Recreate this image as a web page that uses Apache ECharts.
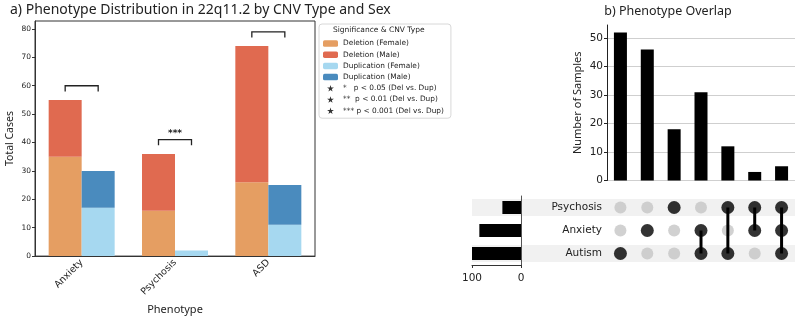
<!DOCTYPE html>
<html>
<head>
<meta charset="utf-8">
<script src="https://cdn.jsdelivr.net/npm/echarts@6/dist/echarts.min.js"></script>
<style>
  html, body { margin: 0; padding: 0; background: #fff; }
  #chart { width: 800px; height: 320px; }
</style>
</head>
<body>
<div id="chart"></div>
<script>
// a) phenotype counts by CNV type and sex
var phenotypes = ['Anxiety', 'Psychosis', 'ASD'];
var delFemale = [35, 16, 26];
var delMale = [20, 20, 48];
var dupFemale = [17, 2, 11];
var dupMale = [13, 0, 14];
// significance brackets: [phenotype index, height, stars]
var brackets = [[0, 60, ''], [1, 41, '***'], [2, 79, '']];
var leftTicks = [0, 10, 20, 30, 40, 50, 60, 70, 80];
var sigLabels = ['*   p < 0.05 (Del vs. Dup)', '**  p < 0.01 (Del vs. Dup)', '*** p < 0.001 (Del vs. Dup)'];

// b) upset plot
var intersections = ['c1', 'c2', 'c3', 'c4', 'c5', 'c6', 'c7'];
var intersectionCounts = [52, 46, 18, 31, 12, 3, 5];
var countTicks = [0, 10, 20, 30, 40, 50];
var setRows = ['Autism', 'Anxiety', 'Psychosis']; // bottom -> top
var setSizes = [100, 85, 38];
var memberAutism = [1, 0, 0, 1, 1, 0, 1];
var memberAnxiety = [0, 1, 0, 1, 0, 1, 1];
var memberPsychosis = [0, 0, 1, 0, 1, 1, 1];
var shadedRows = [0, 2];

var colors = {
    delF: '#E59E62',
    delM: '#E06A50',
    dupF: '#A6D8F0',
    dupM: '#4A8BBE'
};
var starPath = 'path://M50,0 L61,35 L98,35 L68,57 L79,91 L50,70 L21,91 L32,57 L2,35 L39,35 Z';

var members = [memberAutism, memberAnxiety, memberPsychosis];
var activeDots = [], inactiveDots = [], links = [];
intersections.forEach(function (c, i) {
    var rows = [];
    members.forEach(function (m, r) {
        if (m[i]) { activeDots.push([i, r]); rows.push(r); }
        else inactiveDots.push([i, r]);
    });
    if (rows.length > 1) links.push([i, Math.min.apply(null, rows), Math.max.apply(null, rows)]);
});

var chart = echarts.init(document.getElementById('chart'), null, { renderer: 'canvas' });
var tickFont = 'DejaVu Sans';
var uiFont = 'Noto Sans';

var option = {
    animation: false,
    backgroundColor: '#fff',
    title: [{
        text: 'a) Phenotype Distribution in 22q11.2 by CNV Type and Sex',
        left: 5, top: -2,
        textStyle: { fontFamily: uiFont, fontSize: 14, fontWeight: 'normal', color: '#222' }
    }, {
        text: 'b) Phenotype Overlap',
        left: 663, top: 0, textAlign: 'center',
        textStyle: { fontFamily: uiFont, fontSize: 12.5, fontWeight: 'normal', color: '#222' }
    }],
    legend: {
        orient: 'vertical',
        left: 319, top: 24,
        width: 129,
        padding: [16, 7, 4, 4],
        borderColor: '#d8d8d8', borderWidth: 1, borderRadius: 3,
        itemWidth: 15, itemHeight: 6.5, itemGap: 4.2,
        textStyle: { fontFamily: tickFont, fontSize: 7.4, color: '#222' },
        data: ['Deletion (Female)', 'Deletion (Male)', 'Duplication (Female)', 'Duplication (Male)']
            .concat(sigLabels.map(function (s) { return { name: s, icon: starPath }; }))
    },
    graphic: [{
        type: 'text', left: 333, top: 26,
        style: { text: 'Significance & CNV Type', font: '7.5px "DejaVu Sans"', fill: '#222' }
    }],
    grid: [
        { left: 35, top: 21, width: 280, height: 238, show: true, borderColor: '#333', borderWidth: 1, backgroundColor: 'transparent' },
        { left: 607, top: 25, width: 188, height: 155.5 },
        { left: 607, top: 196, width: 188, height: 69 },
        { left: 472, top: 196, width: 49, height: 69 }
    ],
    xAxis: [{
        gridIndex: 0, type: 'category', data: phenotypes,
        name: 'Phenotype', nameLocation: 'middle', nameGap: 40,
        nameTextStyle: { fontFamily: uiFont, fontSize: 11, color: '#222' },
        axisLine: { lineStyle: { color: '#333' } },
        axisTick: { alignWithLabel: true, length: 3, lineStyle: { color: '#333' } },
        axisLabel: { rotate: 45, fontFamily: tickFont, fontSize: 9.5, color: '#222', margin: 5 }
    }, {
        gridIndex: 1, type: 'category', data: intersections, show: false
    }, {
        gridIndex: 2, type: 'category', data: intersections, show: false
    }, {
        gridIndex: 3, type: 'value', inverse: true, min: 0, max: 100, interval: 100,
        axisLine: { show: true, lineStyle: { color: '#333' } },
        axisTick: { show: true, length: 3, lineStyle: { color: '#333' } },
        axisLabel: { fontFamily: tickFont, fontSize: 10.5, color: '#222', margin: 8 },
        splitLine: { show: false }
    }],
    yAxis: [{
        gridIndex: 0, type: 'value', min: 0, max: 82.8, interval: 10,
        name: 'Total Cases', nameLocation: 'middle', nameGap: 19,
        nameTextStyle: { fontFamily: uiFont, fontSize: 10.5, color: '#222' },
        axisLine: { show: true, lineStyle: { color: '#333' } },
        axisTick: { show: true, length: 3, lineStyle: { color: '#333' }, customValues: leftTicks },
        axisLabel: {
            fontFamily: tickFont, fontSize: 7.5, color: '#222', margin: 4,
            customValues: leftTicks
        },
        splitLine: { show: false }
    }, {
        gridIndex: 1, type: 'value', min: 0, max: 54.6, interval: 10,
        name: 'Number of Samples', nameLocation: 'middle', nameGap: 24,
        nameTextStyle: { fontFamily: uiFont, fontSize: 11, color: '#222' },
        axisLine: { show: true, lineStyle: { color: '#222' } },
        axisTick: { show: true, length: 3, lineStyle: { color: '#222' }, customValues: countTicks },
        axisLabel: { fontFamily: tickFont, fontSize: 10.5, color: '#222', margin: 4, customValues: countTicks },
        splitLine: { lineStyle: { color: '#cfcfcf', width: 1 } }
    }, {
        gridIndex: 2, type: 'category', data: setRows,
        axisLine: { show: false }, axisTick: { show: false },
        axisLabel: { fontFamily: tickFont, fontSize: 10.5, color: '#222', margin: 5 }
    }, {
        gridIndex: 3, type: 'category', data: setRows,
        axisLine: { show: true, lineStyle: { color: '#555' } },
        axisTick: { show: false }, axisLabel: { show: false }
    }],
    series: [
        {
            name: 'Deletion (Female)', type: 'bar', stack: 'del', xAxisIndex: 0, yAxisIndex: 0,
            barWidth: 33, barGap: '0%', data: delFemale, itemStyle: { color: colors.delF }
        },
        {
            name: 'Deletion (Male)', type: 'bar', stack: 'del', xAxisIndex: 0, yAxisIndex: 0,
            barWidth: 33, barGap: '0%', data: delMale, itemStyle: { color: colors.delM }
        },
        {
            name: 'Duplication (Female)', type: 'bar', stack: 'dup', xAxisIndex: 0, yAxisIndex: 0,
            barWidth: 33, barGap: '0%', data: dupFemale, itemStyle: { color: colors.dupF }
        },
        {
            name: 'Duplication (Male)', type: 'bar', stack: 'dup', xAxisIndex: 0, yAxisIndex: 0,
            barWidth: 33, barGap: '0%', data: dupMale, itemStyle: { color: colors.dupM }
        },
        {
            // significance brackets over each phenotype pair
            type: 'custom', xAxisIndex: 0, yAxisIndex: 0, z: 5,
            data: brackets,
            renderItem: function (params, api) {
                var top = api.coord([api.value(0), api.value(1)]);
                var leg = api.coord([api.value(0), api.value(1) - 2]);
                var half = 16.5;
                var children = [{
                    type: 'polyline',
                    shape: { points: [[top[0] - half, leg[1]], [top[0] - half, top[1]], [top[0] + half, top[1]], [top[0] + half, leg[1]]] },
                    style: { stroke: '#222', lineWidth: 1.3, fill: null }
                }];
                var stars = brackets[params.dataIndex][2];
                if (stars) {
                    children.push({
                        type: 'text',
                        style: { text: stars, x: top[0], y: top[1] - 2, align: 'center', verticalAlign: 'bottom', font: 'bold 9px "DejaVu Sans"', fill: '#222' }
                    });
                }
                return { type: 'group', children: children };
            }
        }
    ].concat(sigLabels.map(function (s) {
        return { name: s, type: 'scatter', xAxisIndex: 0, yAxisIndex: 0, data: [], symbol: starPath, symbolKeepAspect: true, itemStyle: { color: '#000' } };
    })).concat([
        {
            // row stripes behind the matrix and set-size bars
            type: 'custom', xAxisIndex: 2, yAxisIndex: 2, z: 0, clip: false, silent: true,
            data: shadedRows.map(function (r) { return [0, r]; }),
            renderItem: function (params, api) {
                var p = api.coord([0, api.value(1)]);
                var right = params.coordSys.x + params.coordSys.width;
                return { type: 'rect', shape: { x: 472, y: p[1] - 8.5, width: right - 472, height: 17 }, style: { fill: '#f1f1f1' } };
            }
        },
        {
            type: 'bar', xAxisIndex: 1, yAxisIndex: 1, barWidth: 13,
            data: intersectionCounts, itemStyle: { color: '#000' }
        },
        {
            type: 'bar', xAxisIndex: 3, yAxisIndex: 3, barWidth: 13, z: 3,
            data: setSizes, itemStyle: { color: '#000' }
        },
        {
            type: 'scatter', xAxisIndex: 2, yAxisIndex: 2, z: 3,
            data: inactiveDots, symbolSize: 12, itemStyle: { color: '#c6c6c6' }
        },
        {
            type: 'custom', xAxisIndex: 2, yAxisIndex: 2, z: 4,
            data: links,
            renderItem: function (params, api) {
                var a = api.coord([api.value(0), api.value(1)]);
                var b = api.coord([api.value(0), api.value(2)]);
                return { type: 'line', shape: { x1: a[0], y1: a[1], x2: b[0], y2: b[1] }, style: { stroke: '#000', lineWidth: 3 } };
            }
        },
        {
            type: 'scatter', xAxisIndex: 2, yAxisIndex: 2, z: 5,
            data: activeDots, symbolSize: 13, itemStyle: { color: '#000' }
        }
    ])
};

chart.setOption(option);
</script>
</body>
</html>
